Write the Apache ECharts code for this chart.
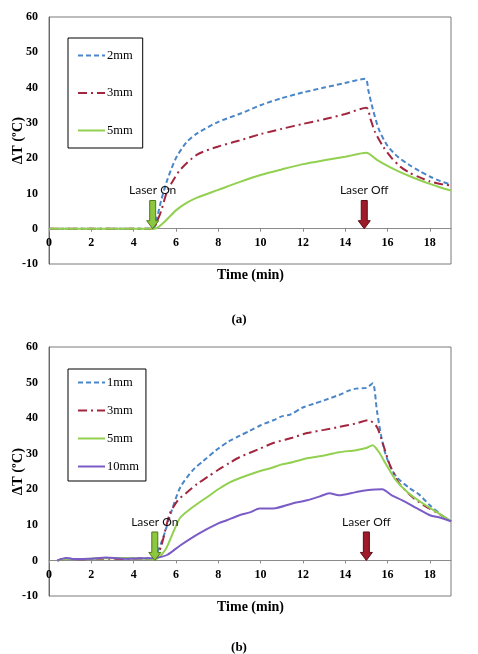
<!DOCTYPE html>
<html><head><meta charset="utf-8">
<script src="https://cdn.jsdelivr.net/npm/echarts@6/dist/echarts.min.js"></script>
<style>html,body{margin:0;padding:0;background:#fff}#c{width:478px;height:654px}</style>
</head><body><div id="c"></div>
<script>
// ---- Data: chart (a) ----
const a_2mm = [[0,0],[4.9,0],[5.1,3],[5.3,8],[5.6,14],[6,20],[6.5,24.5],[7,27],[8,30.3],[9,32.5],[10,35],[11,37],[12,38.6],[13,40],[14,41.3],[14.95,42.5],[15.1,39],[15.3,34],[15.6,28],[16,23.5],[16.5,20.3],[17,18.2],[17.5,16.4],[18,14.8],[18.5,13.5],[19,12.5]];
const a_3mm = [[0,0],[4.9,0],[5.1,2],[5.3,5],[5.55,10],[5.8,13],[6.2,16.7],[7,21],[8,23.3],[9,25],[10,26.8],[11,28.3],[12,29.7],[13,31],[14,32.5],[15,34.3],[15.2,31],[15.4,27.5],[15.8,23.2],[16.2,20],[16.6,17.6],[17,16],[17.5,14.6],[18,13.4],[18.5,12.7],[19,12.2]];
const a_5mm = [[0,0],[5,0],[5.5,2.2],[6,5.2],[6.5,7.3],[7,8.8],[8,11],[9,13.2],[10,15.2],[11,16.8],[12,18.3],[13,19.4],[14,20.4],[15,21.5],[15.5,19.5],[16,17.8],[16.5,16.3],[17,15],[17.5,13.8],[18,12.7],[18.5,11.7],[19,10.8]];
// ---- Data: chart (b) ----
const b_1mm = [[0.4,0],[0.8,0.6],[1.2,0.3],[2,0.4],[2.7,0.7],[3.5,0.5],[4.2,0.6],[4.9,0.5],[5.1,2],[5.4,6.5],[5.8,14],[6.2,20.5],[6.8,25.4],[7.3,28],[7.9,31],[8.5,33.5],[9,35],[9.5,36.5],[10,38],[10.6,39.4],[11,40.5],[11.4,41],[12,43],[12.5,44],[13,45],[13.7,46.5],[14.2,47.8],[14.5,48.3],[15,48.5],[15.3,49.8],[15.5,42],[15.7,35],[15.9,30],[16.2,25.5],[16.5,23],[17,20.5],[17.5,18.5],[18,15.5],[18.5,13],[19,11]];
const b_3mm = [[0.4,0],[0.8,0.5],[1.5,0.3],[2.5,0.5],[3.5,0.4],[4.5,0.5],[5,0.5],[5.3,4],[5.7,13],[6.1,17],[6.5,19],[7,21.5],[7.5,23.5],[8,25.5],[8.5,27.3],[9,29],[10,31.5],[10.6,33],[11.5,34.5],[12.2,35.8],[13,36.7],[13.7,37.5],[14.5,38.5],[15.1,39.4],[15.5,37.5],[15.85,31.5],[16.1,27],[16.55,21.7],[17.2,17.7],[17.8,15.2],[18.4,13.2],[19,11]];
const b_5mm = [[0.4,0],[0.8,0.4],[1.5,0.4],[2.5,0.6],[3.5,0.7],[4.5,0.5],[5,0.3],[5.5,3],[5.85,7.6],[6.2,12],[6.8,15],[7.45,17.7],[8,20],[8.5,21.8],[9,23.1],[9.8,24.8],[10.5,26],[11,27],[11.5,27.6],[12.2,28.7],[13,29.5],[13.7,30.4],[14.5,31],[15,31.6],[15.3,32.4],[15.6,30.4],[15.9,27.3],[16.4,22.5],[17,18.9],[17.8,15.5],[18.4,13.3],[19,11]];
const b_10mm = [[0.4,0],[0.8,0.7],[1.2,0.4],[2,0.5],[2.7,0.8],[3.5,0.5],[4.3,0.6],[5,0.7],[5.3,1],[5.6,1.6],[6.2,4.2],[7.1,7.6],[8,10.4],[8.4,11.3],[9,12.7],[9.5,13.5],[9.95,14.6],[10.6,14.6],[11.5,16],[12.2,16.9],[12.8,18],[13.25,18.9],[13.7,18.3],[14.5,19.2],[15,19.7],[15.75,20],[16.2,18.3],[16.7,16.9],[17.4,14.6],[18,12.7],[18.5,12],[19,11]];
// Arrows: [x, topValue, label, kind]
const a_arrows = [[4.9, 8, 'Laser On', 'on'], [14.9, 8, 'Laser Off', 'off']];
const b_arrows = [[5.0, 8, 'Laser On', 'on'], [15.0, 8, 'Laser Off', 'off']];
const xTicks = [0, 19, 2];
const yTicks = [-10, 60, 10];

const C = {blue:'#4A86C8', red:'#A3263F', green:'#92D050', purple:'#7B5BC6'};
const serif = '"Liberation Serif","Times New Roman",serif';
const sans = 'Lato,"Noto Sans",sans-serif';
const GRID_H = [247, 249];

function xAxisDef(gi){
  // x axis crosses the y axis at 0: shift it up from the grid bottom by the height of (0 - yMin)
  const off = -GRID_H[gi] * (0 - yTicks[0]) / (yTicks[1] - yTicks[0]);
  return {gridIndex:gi, type:'value', min:xTicks[0], max:xTicks[1], interval:xTicks[2], offset:off,
    axisLine:{onZero:false, lineStyle:{color:'#8a8a8a', width:1}},
    axisTick:{show:true, inside:false, length:3, lineStyle:{color:'#8a8a8a'}},
    axisLabel:{color:'#000', fontFamily:serif, fontWeight:'bold', fontSize:12, margin:8, showMaxLabel:false},
    splitLine:{show:false}};
}
function yAxisDef(gi){
  return {gridIndex:gi, type:'value', min:yTicks[0], max:yTicks[1], interval:yTicks[2],
    name:'ΔT (ºC)', nameLocation:'middle', nameRotate:90, nameGap:23, nameMoveOverlap:false,
    nameTextStyle:{color:'#000', fontFamily:serif, fontWeight:'bold', fontSize:14.5},
    axisLine:{show:true, onZero:false, lineStyle:{color:'#6a6a6a'}},
    axisTick:{show:false},
    axisLabel:{color:'#000', fontFamily:serif, fontWeight:'bold', fontSize:12, margin:11},
    splitLine:{show:false}};
}
function lineSeries(name, data, color, type, gi){
  return {name, type:'line', xAxisIndex:gi, yAxisIndex:gi, data, showSymbol:false, symbol:'none',
    smooth:0.25, z:3, lineStyle:{color, width:2, type}, itemStyle:{color}};
}
function arrowSeries(data, gi){
  return {type:'custom', xAxisIndex:gi, yAxisIndex:gi, data, z:5, silent:true,
    renderItem(params, api){
      const x = api.value(0), top = api.value(1);
      const pTop = api.coord([x, top]);
      const pTip = api.coord([x, 0]);
      const cx = pTip[0];
      const sw = 3, hw = 6, hl = 8;
      const kind = data[params.dataIndex][3];
      const fill = kind === 'on' ? '#8DC63F' : '#9E1C2A';
      const stroke = kind === 'on' ? '#4E7A1C' : '#5A0E16';
      const hy = pTip[1] - hl;
      return {type:'group', children:[
        {type:'polygon', shape:{points:[[cx-sw,pTop[1]],[cx+sw,pTop[1]],[cx+sw,hy],[cx+hw,hy],[cx,pTip[1]],[cx-hw,hy],[cx-sw,hy]]},
          style:{fill, stroke, lineWidth:1}},
        {type:'text', x:cx, y:pTop[1]-10, style:{text:data[params.dataIndex][2], fill:'#111', font:'12px '+sans, align:'center', verticalAlign:'middle'}}
      ]};
    },
    encode:{x:0, y:1}};
}
function legendDef(top, names, gap, pad){
  return {top, left:68, orient:'vertical', data:names, borderColor:'#000', borderWidth:1,
    padding:pad, itemGap:gap, itemWidth:27, itemHeight:14,
    itemStyle:{opacity:0, borderWidth:0},
    textStyle:{color:'#000', fontFamily:serif, fontSize:12.5, padding:[0,0,0,-3]}, selectedMode:false};
}

const chart = echarts.init(document.getElementById('c'), null, {renderer:'canvas'});
chart.setOption({
  animation:false,
  backgroundColor:'#fff',
  grid:[
    {left:49, top:17, width:402, height:GRID_H[0], show:true, borderColor:'#7a7a7a', borderWidth:1, backgroundColor:'transparent', containLabel:false, outerBoundsMode:'none'},
    {left:49, top:347, width:402, height:GRID_H[1], show:true, borderColor:'#7a7a7a', borderWidth:1, backgroundColor:'transparent', containLabel:false, outerBoundsMode:'none'}
  ],
  xAxis:[xAxisDef(0), xAxisDef(1)],
  yAxis:[yAxisDef(0), yAxisDef(1)],
  legend:[
    legendDef(38, ['2mm','3mm','5mm'], 24.5, [11,10,11,9]),
    legendDef(369, ['1mm','3mm ','5mm ','10mm'], 15, [7,7,8,9])
  ],
  title:[
    {text:'Time (min)', top:268, left:217, padding:0, textStyle:{fontFamily:serif, fontWeight:'bold', fontSize:14, color:'#000'}},
    {text:'(a)', top:313, left:239, textAlign:'center', padding:0, textStyle:{fontFamily:serif, fontWeight:'bold', fontSize:13, color:'#000'}},
    {text:'Time (min)', top:600, left:217, padding:0, textStyle:{fontFamily:serif, fontWeight:'bold', fontSize:14, color:'#000'}},
    {text:'(b)', top:641, left:239, textAlign:'center', padding:0, textStyle:{fontFamily:serif, fontWeight:'bold', fontSize:13, color:'#000'}}
  ],
  series:[
    lineSeries('2mm', a_2mm, C.blue, [5,3], 0),
    lineSeries('3mm', a_3mm, C.red, [9,4,2,4], 0),
    lineSeries('5mm', a_5mm, C.green, 'solid', 0),
    arrowSeries(a_arrows, 0),
    lineSeries('1mm', b_1mm, C.blue, [5,3], 1),
    lineSeries('3mm ', b_3mm, C.red, [9,4,2,4], 1),
    lineSeries('5mm ', b_5mm, C.green, 'solid', 1),
    lineSeries('10mm', b_10mm, C.purple, 'solid', 1),
    arrowSeries(b_arrows, 1)
  ]
});
</script></body></html>
